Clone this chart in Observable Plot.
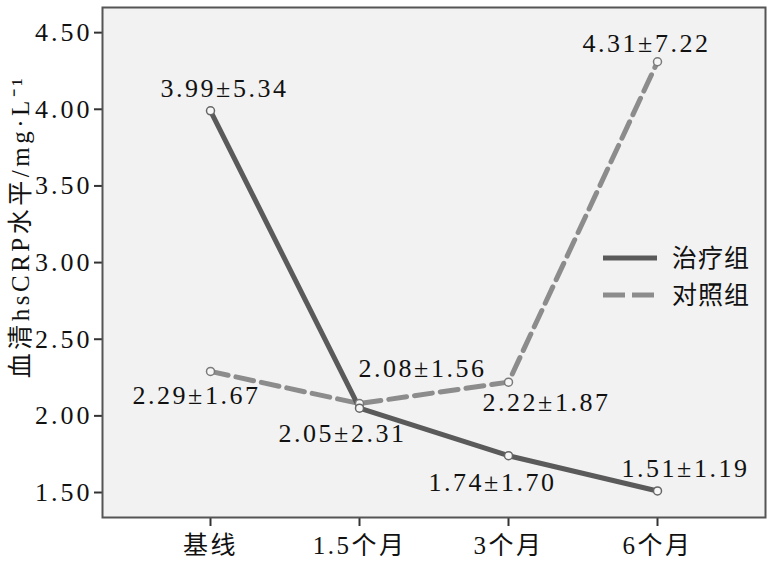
<!DOCTYPE html>
<html>
<head>
<meta charset="utf-8">
<script src="https://cdn.jsdelivr.net/npm/d3@7"></script>
<script src="https://cdn.jsdelivr.net/npm/@observablehq/plot@0.6"></script>
<style>
  body { margin: 0; background: #fff; }
  #chart svg { display: block; }
  #chart svg g[aria-label="y-axis tick label"] text { letter-spacing: 3px; }
</style>
</head>
<body>
<div id="chart"></div>
<script>
// ---- data ----
const timepoints = ["基线", "1.5个月", "3个月", "6个月"];
const groups = ["治疗组", "对照组"];
const treatMean = [3.99, 2.05, 1.74, 1.51];
const treatSD = [5.34, 2.31, 1.70, 1.19];
const ctrlMean = [2.29, 2.08, 2.22, 4.31];
const ctrlSD = [1.67, 1.56, 1.87, 7.22];
const yTicks = [1.5, 2.0, 2.5, 3.0, 3.5, 4.0, 4.5];
const yTitle = "血清hsCRP水平/mg·L⁻¹";

// ---- layout helpers (label nudges in px, not data) ----
const treatNudge = [[14, -22], [-17, 25], [-16, 27], [28, -22]];
const ctrlNudge = [[-14, 24], [63, -35], [38, 21], [-11, -18]];

const treatColor = "#5a5a5a";
const ctrlColor = "#8c8c8c";
const serif = '"Liberation Serif", "Times New Roman", "Noto Sans CJK SC", serif';

const treatRows = timepoints.map((t, i) => ({group: groups[0], t, mean: treatMean[i], sd: treatSD[i], i}));
const ctrlRows = timepoints.map((t, i) => ({group: groups[1], t, mean: ctrlMean[i], sd: ctrlSD[i], i}));
const fmtLabel = d => `${d.mean.toFixed(2)}±${d.sd.toFixed(2)}`;

const labelMarks = [
  ...treatRows.map(r => Plot.text([r], {x: "t", y: "mean", text: fmtLabel, dx: treatNudge[r.i][0], dy: treatNudge[r.i][1], fontSize: 26, fill: "#111"})),
  ...ctrlRows.map(r => Plot.text([r], {x: "t", y: "mean", text: fmtLabel, dx: ctrlNudge[r.i][0], dy: ctrlNudge[r.i][1], fontSize: 26, fill: "#111"}))
];

const plot = Plot.plot({
  width: 772,
  height: 566,
  marginLeft: 102,
  marginRight: 7,
  marginTop: 7,
  marginBottom: 49,
  style: {fontFamily: serif, fontSize: "26px", color: "#111", letterSpacing: "2.5px", background: "#fff"},
  x: {type: "point", domain: timepoints, padding: 0.717},
  y: {domain: [1.337, 4.664]},
  marks: [
    Plot.frame({fill: "#f2f2f2", stroke: null}),
    Plot.axisY({ticks: yTicks, tickFormat: d => d.toFixed(2), tickSize: 8, tickPadding: 2, label: null, fontSize: 26, stroke: "#333", strokeWidth: 2}),
    Plot.axisX({tickSize: 9, tickPadding: 10, label: null, fontSize: 25, stroke: "#333", strokeWidth: 2}),
    Plot.line(ctrlRows, {x: "t", y: "mean", stroke: ctrlColor, strokeWidth: 5, strokeDasharray: "18,8"}),
    Plot.line(treatRows, {x: "t", y: "mean", stroke: treatColor, strokeWidth: 5}),
    Plot.dot(ctrlRows, {x: "t", y: "mean", r: 4, fill: "#f6f6f6", stroke: "#7a7a7a", strokeWidth: 1.5}),
    Plot.dot(treatRows, {x: "t", y: "mean", r: 4, fill: "#f6f6f6", stroke: "#666", strokeWidth: 1.5}),
    ...labelMarks,
    Plot.text([yTitle], {text: d => d, frameAnchor: "left", textAnchor: "middle", rotate: -90, dx: -82, dy: -36, fontSize: 25, fill: "#111", style: "letter-spacing:3px"}),
    Plot.frame({stroke: "#555", strokeWidth: 2})
  ]
});

// legend inside the frame
const svg = d3.select(plot);
svg.selectAll('g[aria-label="text"]').filter(function() {
  return this.textContent === yTitle;
}).style("letter-spacing", "3.5px");
const lg = svg.append("g").attr("font-family", serif).attr("font-size", 25)
  .attr("letter-spacing", "1px").attr("text-anchor", "start");
const legendItems = [
  {label: groups[0], color: treatColor, dash: null, y: 258},
  {label: groups[1], color: ctrlColor, dash: "22,7", y: 295}
];
legendItems.forEach(it => {
  lg.append("line").attr("x1", 603).attr("x2", 657).attr("y1", it.y).attr("y2", it.y)
    .attr("stroke", it.color).attr("stroke-width", 5).attr("stroke-dasharray", it.dash);
  lg.append("text").attr("x", 672).attr("y", it.y).attr("dy", "0.35em").attr("fill", "#111").text(it.label);
});

document.getElementById("chart").appendChild(plot);
</script>
</body>
</html>
